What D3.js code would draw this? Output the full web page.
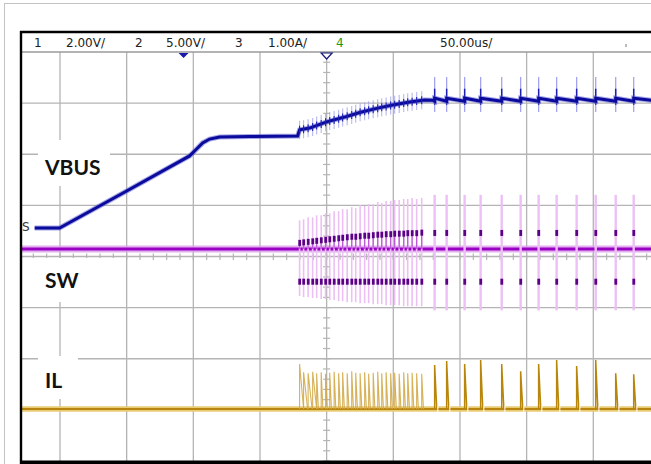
<!DOCTYPE html>
<html lang="en">
<head>
<meta charset="utf-8">
<title>VBUS / SW / IL start-up capture</title>
<script src="https://d3js.org/d3.v7.min.js"></script>
<style>
  body { margin: 0; padding: 0; background: #fff; }
  svg { display: block; }
  .hdr { font-family: "DejaVu Sans", sans-serif; font-size: 12px; fill: #222; }
  .lbl { font-family: Lato, "Open Sans", sans-serif; font-weight: bold; font-size: 21px; fill: #111; }
</style>
</head>
<body>
<div id="chart"></div>
<script>
const chanNums = ["1", "2", "3", "4"];
const chanScales = ["2.00V/", "5.00V/", "1.00A/", ""];
const chanColors = ["#222", "#222", "#222", "#1a9a1a"];
const timebase = "50.00us/";
const traceNames = ["VBUS", "SW", "IL"];

// VBUS ramp (time in us, volts)
const vbusT = [-219, -200.3, -150, -102.8, -98.3, -93, -87.8, -80.3, -57.8, -21.8, -20.3, -12.8, 0, 13.5, 24.8, 37.5, 49.5, 62.3, 73.5, 79.5];
const vbusV = [0, 0, 1.45, 2.82, 3.05, 3.33, 3.48, 3.56, 3.58, 3.6, 3.84, 3.91, 4.15, 4.34, 4.52, 4.68, 4.81, 4.93, 5.01, 5.0];
const vbusLow = 4.96, vbusHigh = 5.08;

// dense switching burst (us)
const denseT = [-20.3, -17.3, -13.9, -10.5, -7.5, -4.1, -0.8, 2.3, 5.6, 9, 12, 15.4, 18.8, 21.8, 25.1,
                28.5, 31.5, 34.9, 38.3, 41.3, 44.6, 48, 51, 54.4, 57.8, 60.8, 64.1, 67.5, 71.3];
const swTop = [2.8, 2.9, 3.1, 3.1, 3.3, 3.3, 3.5, 3.5, 3.7, 3.7, 3.9, 3.9, 4.1, 4.0, 4.3, 4.2,
               4.4, 4.4, 4.6, 4.5, 4.7, 4.7, 4.8, 4.8, 4.9, 4.9, 5.0, 4.9, 5.0];
const swDotHi = [0.6, 0.65, 0.7, 0.75, 0.8, 0.85, 0.9, 0.95, 1.0, 1.05, 1.1, 1.15, 1.2, 1.2, 1.25,
                 1.3, 1.3, 1.35, 1.4, 1.4, 1.45, 1.45, 1.5, 1.5, 1.5, 1.55, 1.55, 1.55, 1.6];
const swBot = [-4.6, -4.7, -4.7, -4.8, -4.8, -4.9, -4.9, -5.0, -5.0, -5.1, -5.1, -5.2, -5.2, -5.2, -5.3,
               -5.3, -5.3, -5.4, -5.4, -5.4, -5.5, -5.5, -5.5, -5.5, -5.6, -5.6, -5.6, -5.6, -5.6];
const ilDense = [0.88, 0.72, 0.70, 0.73, 0.70, 0.72, 0.69, 0.71, 0.73, 0.70, 0.72, 0.70, 0.74, 0.71, 0.70,
                 0.72, 0.69, 0.71, 0.73, 0.70, 0.72, 0.70, 0.71, 0.69, 0.72, 0.70, 0.71, 0.70, 0.69];

// sparse (pulse-skipping) pulses (us)
const sparseT = [81, 90, 103.5, 115.5, 131.3, 145.5, 159, 172.5, 187.5, 201.8, 216.8, 230.3];
const ilSparse = [0.86, 0.94, 0.88, 0.96, 0.88, 0.74, 0.88, 0.96, 0.84, 0.96, 0.70, 0.68];

// channel-2 offset marker and trigger marker (us)
const markerT = [-107.3, 0];

// ---- layout ----
const W = 651, H = 464;
const L = 21, T = 52, B = 461, R = 651;

const svg = d3.select("#chart").append("svg").attr("width", W).attr("height", H);
svg.append("rect").attr("width", W).attr("height", H).attr("fill", "#fff");

const x = d3.scaleLinear().domain([-200, 200]).range([60, 593.3]);
const yDiv = d3.scaleLinear().domain([-4, 4]).range([B, T]);
const yV = d3.scaleLinear().domain([0, 5]).range([228, 100.2]);
const ySW = d3.scaleLinear().domain([0, 5]).range([249, 197.9]);
const yIL = d3.scaleLinear().domain([0, 1]).range([409, 357.9]);

svg.append("clipPath").attr("id", "plot")
  .append("rect").attr("x", L).attr("y", T).attr("width", R - L).attr("height", B - T);

// outer light border
svg.append("rect").attr("x", 4.5).attr("y", 3.5).attr("width", 700).attr("height", 500)
  .attr("fill", "none").attr("stroke", "#c4c4c4");

const plot = svg.append("g").attr("clip-path", "url(#plot)");

// graticule
const gridColor = "#b4b4b4";
plot.selectAll(".vg").data(d3.range(-250, 251, 50)).enter().append("line")
  .attr("x1", d => x(d)).attr("x2", d => x(d)).attr("y1", T).attr("y2", B)
  .attr("stroke", gridColor).attr("stroke-width", 1.3);
plot.selectAll(".hg").data(d3.range(-3, 4)).enter().append("line")
  .attr("x1", L).attr("x2", R).attr("y1", d => yDiv(d)).attr("y2", d => yDiv(d))
  .attr("stroke", gridColor).attr("stroke-width", 1.3);
// minor ticks on the centre axes
plot.selectAll(".mty").data(d3.range(-4, 4.01, 0.2)).enter().append("line")
  .attr("x1", x(0) - 3.5).attr("x2", x(0) + 3.5).attr("y1", d => yDiv(d)).attr("y2", d => yDiv(d))
  .attr("stroke", gridColor).attr("stroke-width", 1.2);
plot.selectAll(".mtx").data(d3.range(-250, 251, 10)).enter().append("line")
  .attr("x1", d => x(d)).attr("x2", d => x(d)).attr("y1", yDiv(0) - 3).attr("y2", yDiv(0) + 3.5)
  .attr("stroke", gridColor).attr("stroke-width", 1.2);

// white boxes behind the pasted labels
const boxes = [[38, 140, 72, 46], [21, 258, 94, 44], [38, 356, 40, 43]];
plot.selectAll(".box").data(boxes).enter().append("rect")
  .attr("x", d => d[0]).attr("y", d => d[1]).attr("width", d => d[2]).attr("height", d => d[3])
  .attr("fill", "#fff");

const line = d3.line();

// ---- IL (gold) ----
const ilG = plot.append("g");
ilG.append("line").attr("x1", L).attr("x2", R).attr("y1", yIL(0)).attr("y2", yIL(0))
  .attr("stroke", "#e9cb76").attr("stroke-width", 5.5);
ilG.append("line").attr("x1", L).attr("x2", R).attr("y1", yIL(0)).attr("y2", yIL(0))
  .attr("stroke", "#b8860e").attr("stroke-width", 2);
ilG.selectAll(".ild").data(denseT).enter().append("path")
  .attr("d", (t, i) => line([[x(t), yIL(0)], [x(t), yIL(ilDense[i])], [x(t + (i < 4 ? 3 : 1.3)), yIL(0)]]))
  .attr("fill", "none").attr("stroke", "#d2a846").attr("stroke-width", 1.1).attr("opacity", 0.9);
ilG.selectAll(".ils").data(sparseT).enter().append("path")
  .attr("d", (t, i) => line([[x(t), yIL(0)], [x(t), yIL(ilSparse[i])], [x(t + 1.6), yIL(0)]]))
  .attr("fill", "none").attr("stroke", "#b8860b").attr("stroke-width", 1.5);
ilG.selectAll(".iln").data(sparseT).enter().append("line")
  .attr("x1", t => x(t + 2.4)).attr("x2", t => x(t + 2.4))
  .attr("y1", yIL(0) - 3).attr("y2", yIL(0) + 3)
  .attr("stroke", "#fff").attr("stroke-width", 1);

// ---- SW (purple) ----
const swG = plot.append("g");
swG.append("line").attr("x1", L).attr("x2", R).attr("y1", ySW(0)).attr("y2", ySW(0))
  .attr("stroke", "#dc9cec").attr("stroke-width", 7).attr("opacity", 0.8);
swG.append("line").attr("x1", L).attr("x2", R).attr("y1", ySW(0)).attr("y2", ySW(0))
  .attr("stroke", "#9a00c4").attr("stroke-width", 3);
swG.selectAll(".swf").data(denseT).enter().append("line")
  .attr("x1", t => x(t)).attr("x2", t => x(t))
  .attr("y1", (t, i) => ySW(swTop[i])).attr("y2", (t, i) => ySW(swBot[i]))
  .attr("stroke", "#ecc0f4").attr("stroke-width", 1.6);
swG.selectAll(".swm").data(denseT).enter().append("line")
  .attr("x1", t => x(t)).attr("x2", t => x(t))
  .attr("y1", ySW(0)).attr("y2", (t, i) => ySW(swDotHi[i]))
  .attr("stroke", "#b040d0").attr("stroke-width", 1.3).attr("opacity", 0.8);
swG.selectAll(".sws").data(sparseT).enter().append("line")
  .attr("x1", t => x(t)).attr("x2", t => x(t))
  .attr("y1", ySW(5.3)).attr("y2", ySW(-6))
  .attr("stroke", "#ecc0f4").attr("stroke-width", 2.4);
const dots = denseT.map((t, i) => [t, swDotHi[i]])
  .concat(denseT.map(t => [t, -3.2]))
  .concat(sparseT.map(t => [t, 1.57]))
  .concat(sparseT.map(t => [t, -3.2]));
swG.selectAll(".swdot").data(dots).enter().append("rect")
  .attr("x", d => x(d[0]) - 1.3).attr("y", d => ySW(d[1]) - 3)
  .attr("width", 2.8).attr("height", 6).attr("fill", "#5c0088");

// ---- VBUS (blue) ----
const vbG = plot.append("g");
const vbusPts = vbusT.map((t, i) => [t, vbusV[i]]);
sparseT.forEach((t, i) => { vbusPts.push([t, vbusLow], [t, vbusHigh]); });
vbusPts.push([250, vbusLow]);
const vLine = d3.line().x(d => x(d[0])).y(d => yV(d[1]));
const vAt = t => {
  const i = d3.bisectRight(vbusT, t);
  const a = Math.max(0, i - 1), b = Math.min(vbusT.length - 1, i);
  if (a === b) return vbusV[a];
  return vbusV[a] + (vbusV[b] - vbusV[a]) * (t - vbusT[a]) / (vbusT[b] - vbusT[a]);
};
vbG.selectAll(".vr").data(denseT).enter().append("line")
  .attr("x1", t => x(t)).attr("x2", t => x(t))
  .attr("y1", t => yV(vAt(t)) - 9).attr("y2", t => yV(vAt(t)) + 9)
  .attr("stroke", "#9a9aea").attr("stroke-width", 1.1).attr("opacity", 0.7);
vbG.selectAll(".vs").data(sparseT).enter().append("line")
  .attr("x1", t => x(t)).attr("x2", t => x(t))
  .attr("y1", yV(5.91)).attr("y2", yV(4.54))
  .attr("stroke", "#a4a4ee").attr("stroke-width", 1.3);
vbG.selectAll(".vs2").data(sparseT).enter().append("line")
  .attr("x1", t => x(t)).attr("x2", t => x(t))
  .attr("y1", yV(5.45)).attr("y2", yV(4.82))
  .attr("stroke", "#2020b0").attr("stroke-width", 1.5);
vbG.append("path").attr("d", vLine(vbusPts)).attr("fill", "none")
  .attr("stroke", "#5c5cd4").attr("stroke-width", 5).attr("opacity", 0.55);
vbG.append("path").attr("d", vLine(vbusPts)).attr("fill", "none")
  .attr("stroke", "#0a0a9c").attr("stroke-width", 3);
vbG.selectAll(".vt").data(denseT).enter().append("line")
  .attr("x1", t => x(t)).attr("x2", t => x(t))
  .attr("y1", t => yV(vAt(t)) - 4).attr("y2", t => yV(vAt(t)) + 4)
  .attr("stroke", "#2020b4").attr("stroke-width", 1.1);

// trace labels
const lblY = [175, 288, 388];
svg.selectAll(".lbl").data(traceNames).enter().append("text")
  .attr("class", "lbl").attr("x", 45).attr("y", (d, i) => lblY[i]).text(d => d);
svg.append("text").attr("x", 22).attr("y", 231).attr("font-family", "DejaVu Sans, sans-serif")
  .attr("font-size", 12).attr("fill", "#333").text("S");

// ---- frame and header ----
svg.append("line").attr("x1", L).attr("x2", W).attr("y1", T).attr("y2", T)
  .attr("stroke", "#9a9a9a").attr("stroke-width", 1.6);
svg.append("line").attr("x1", L - 1).attr("x2", W).attr("y1", 32).attr("y2", 32)
  .attr("stroke", "#000").attr("stroke-width", 2.4);
svg.append("line").attr("x1", L).attr("x2", L).attr("y1", 31).attr("y2", H)
  .attr("stroke", "#000").attr("stroke-width", 2.4);
svg.append("line").attr("x1", L - 1).attr("x2", W).attr("y1", 462.5).attr("y2", 462.5)
  .attr("stroke", "#000").attr("stroke-width", 4);

const numX = [34, 135, 235, 336];
const scaleX = [66, 166, 268];
svg.selectAll(".cn").data(chanNums).enter().append("text")
  .attr("class", "hdr").attr("x", (d, i) => numX[i]).attr("y", 46.5)
  .style("fill", (d, i) => chanColors[i]).text(d => d);
svg.selectAll(".cs").data(chanScales.filter(s => s)).enter().append("text")
  .attr("class", "hdr").attr("x", (d, i) => scaleX[i]).attr("y", 46.5).text(d => d);
svg.append("text").attr("class", "hdr").attr("x", 440).attr("y", 46.5).text(timebase);
svg.append("line").attr("x1", 626).attr("x2", 626).attr("y1", 44).attr("y2", 47)
  .attr("stroke", "#777").attr("stroke-width", 1);

// markers under the header
svg.append("path")
  .attr("d", `M${x(markerT[0]) - 5},${T + 1}L${x(markerT[0]) + 5},${T + 1}L${x(markerT[0])},${T + 6}Z`)
  .attr("fill", "#1a1aa8");
svg.append("path")
  .attr("d", `M${x(markerT[1]) - 5.5},${T + 1}L${x(markerT[1]) + 5.5},${T + 1}L${x(markerT[1])},${T + 7}Z`)
  .attr("fill", "#fff").attr("stroke", "#1a1a7a").attr("stroke-width", 1.2);
</script>
</body>
</html>
